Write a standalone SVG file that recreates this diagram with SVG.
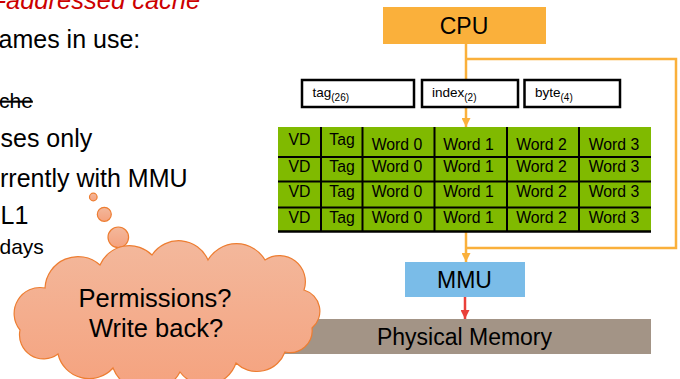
<svg xmlns="http://www.w3.org/2000/svg" width="680" height="379" viewBox="0 0 680 379">
  <style>
    text { font-family: "Liberation Sans", Arial, sans-serif; fill: #000; }
    .bullet { font-size: 25px; }
    .sub { font-size: 21px; }
    .cell { font-size: 15.8px; text-anchor: middle; }
    .field { fill: #fff; stroke: #000; stroke-width: 2.5; }
    .flabel { font-size: 13.5px; }
    .fsub { font-size: 10px; }
    .grid { stroke: #000; stroke-width: 2; }
    .wire { fill: none; stroke: #FAB03B; stroke-width: 2.5; }
    .wire-red { fill: none; stroke: #E9403A; stroke-width: 2.5; }
    .puff { fill: url(#cloudFill); stroke: #ED7D31; stroke-width: 1.2; }
    .big { font-size: 23px; text-anchor: middle; }
    .thought-text { font-size: 25.5px; text-anchor: middle; }
  </style>
  <defs>
    <linearGradient id="cloudFill" x1="0" y1="0" x2="0" y2="1">
      <stop offset="0" stop-color="#F3B89C"/>
      <stop offset="1" stop-color="#F5A27E"/>
    </linearGradient>
    <marker id="arrOrange" viewBox="0 0 10 10" refX="10" refY="5" markerWidth="9" markerHeight="9" markerUnits="userSpaceOnUse" orient="auto">
      <path d="M0,0 L10,5 L0,10 z" fill="#FAB03B"/>
    </marker>
    <marker id="arrRed" viewBox="0 0 10 10" refX="10" refY="5" markerWidth="9" markerHeight="9" markerUnits="userSpaceOnUse" orient="auto">
      <path d="M0,0 L10,5 L0,10 z" fill="#E9403A"/>
    </marker>
  </defs>

  <rect width="680" height="379" fill="#fff"/>

  <!-- bullet text on the left -->
  <g id="notes">
    <text x="-2.5" y="8.5" font-size="25.5" font-style="italic" style="fill:#CC0000">-addressed cache</text>
    <text class="bullet" x="-1.5" y="48">ames in use:</text>
    <text class="sub" x="-1" y="108" text-decoration="line-through">che</text>
    <text class="bullet" x="0.5" y="147">ses only</text>
    <text class="bullet" x="0" y="187">rrently with MMU</text>
    <text class="bullet" x="0.5" y="224">L1</text>
    <text class="sub" x="-0.5" y="254">days</text>
  </g>

  <!-- connectors -->
  <g id="connectors">
    <path class="wire" d="M466,44 V127" marker-end="url(#arrOrange)"/>
    <path class="wire" d="M466,59 H676 V248 H466"/>
    <path class="wire" d="M466,232 V262" marker-end="url(#arrOrange)"/>
    <path class="wire-red" d="M465,297 V319" marker-end="url(#arrRed)"/>
  </g>

  <g id="cpu">
    <rect x="383" y="7" width="163" height="37" fill="#FAB03B"/>
    <text class="big" x="464" y="34">CPU</text>
  </g>

  <g id="field-tag">
    <rect class="field" x="302" y="80" width="112" height="27"/>
    <text class="flabel" x="312.5" y="97">tag<tspan class="fsub" dy="4">(26)</tspan></text>
  </g>
  <g id="field-index">
    <rect class="field" x="422" y="80" width="96" height="27"/>
    <text class="flabel" x="432" y="97">index<tspan class="fsub" dy="4">(2)</tspan></text>
  </g>
  <g id="field-byte">
    <rect class="field" x="524.5" y="80" width="95.5" height="27"/>
    <text class="flabel" x="535" y="97">byte<tspan class="fsub" dy="4">(4)</tspan></text>
  </g>

  <!-- cache table: four lines of VD | Tag | Word 0..3 -->
  <g id="cache">
    <rect x="278" y="127" width="373" height="105" fill="#80BA00"/>
    <path class="grid" d="M278,157 H651 M278,181.5 H651 M278,207.5 H651 M321,127 V232 M362.5,127 V232 M434.5,127 V232 M507,127 V232 M579,127 V232"/>
    <path d="M278,231.5 H651" stroke="#000" stroke-width="2.5"/>
    <g class="cell">
      <text class="cell" x="299.5" y="145">VD</text>
      <text class="cell" x="342" y="145">Tag</text>
      <text class="cell" x="397" y="150">Word 0</text>
      <text class="cell" x="468.5" y="150">Word 1</text>
      <text class="cell" x="541.5" y="150">Word 2</text>
      <text class="cell" x="614" y="150">Word 3</text>

      <text class="cell" x="299.5" y="171.5">VD</text>
      <text class="cell" x="342" y="171.5">Tag</text>
      <text class="cell" x="397" y="171.5">Word 0</text>
      <text class="cell" x="468.5" y="171.5">Word 1</text>
      <text class="cell" x="541.5" y="171.5">Word 2</text>
      <text class="cell" x="614" y="171.5">Word 3</text>

      <text class="cell" x="299.5" y="197">VD</text>
      <text class="cell" x="342" y="197">Tag</text>
      <text class="cell" x="397" y="197">Word 0</text>
      <text class="cell" x="468.5" y="197">Word 1</text>
      <text class="cell" x="541.5" y="197">Word 2</text>
      <text class="cell" x="614" y="197">Word 3</text>

      <text class="cell" x="299.5" y="222.5">VD</text>
      <text class="cell" x="342" y="222.5">Tag</text>
      <text class="cell" x="397" y="222.5">Word 0</text>
      <text class="cell" x="468.5" y="222.5">Word 1</text>
      <text class="cell" x="541.5" y="222.5">Word 2</text>
      <text class="cell" x="614" y="222.5">Word 3</text>
    </g>
  </g>

  <g id="mmu">
    <rect x="405" y="262" width="120" height="35" fill="#7ABCE8"/>
    <text class="big" x="464.5" y="288">MMU</text>
  </g>

  <g id="physical-memory">
    <rect x="278" y="319" width="373" height="35" fill="#A39486"/>
    <text class="big" x="464.5" y="345">Physical Memory</text>
  </g>

  <!-- thought cloud -->
  <g id="thought">
    <circle class="puff" cx="93.3" cy="197" r="3.8"/>
    <circle class="puff" cx="104.3" cy="214.3" r="7"/>
    <circle class="puff" cx="118.3" cy="237.3" r="10.3"/>
    <path class="puff" d="M20,330
      A26,26 0 0 1 45,288
      A33,33 0 0 1 100,265
      A32,32 0 0 1 152,255
      A32,32 0 0 1 208,260
      A33,33 0 0 1 265,260
      A26,26 0 0 1 304,290
      A22,22 0 0 1 312,328
      A22,22 0 0 1 285,352
      A30,30 0 0 1 236,363
      A32,32 0 0 1 180,372
      A37,37 0 0 1 113,368
      A32,32 0 0 1 58,354
      A24,24 0 0 1 20,330 Z"/>
    <text class="thought-text" x="155" y="307">Permissions?</text>
    <text class="thought-text" x="156" y="337">Write back?</text>
  </g>
</svg>
